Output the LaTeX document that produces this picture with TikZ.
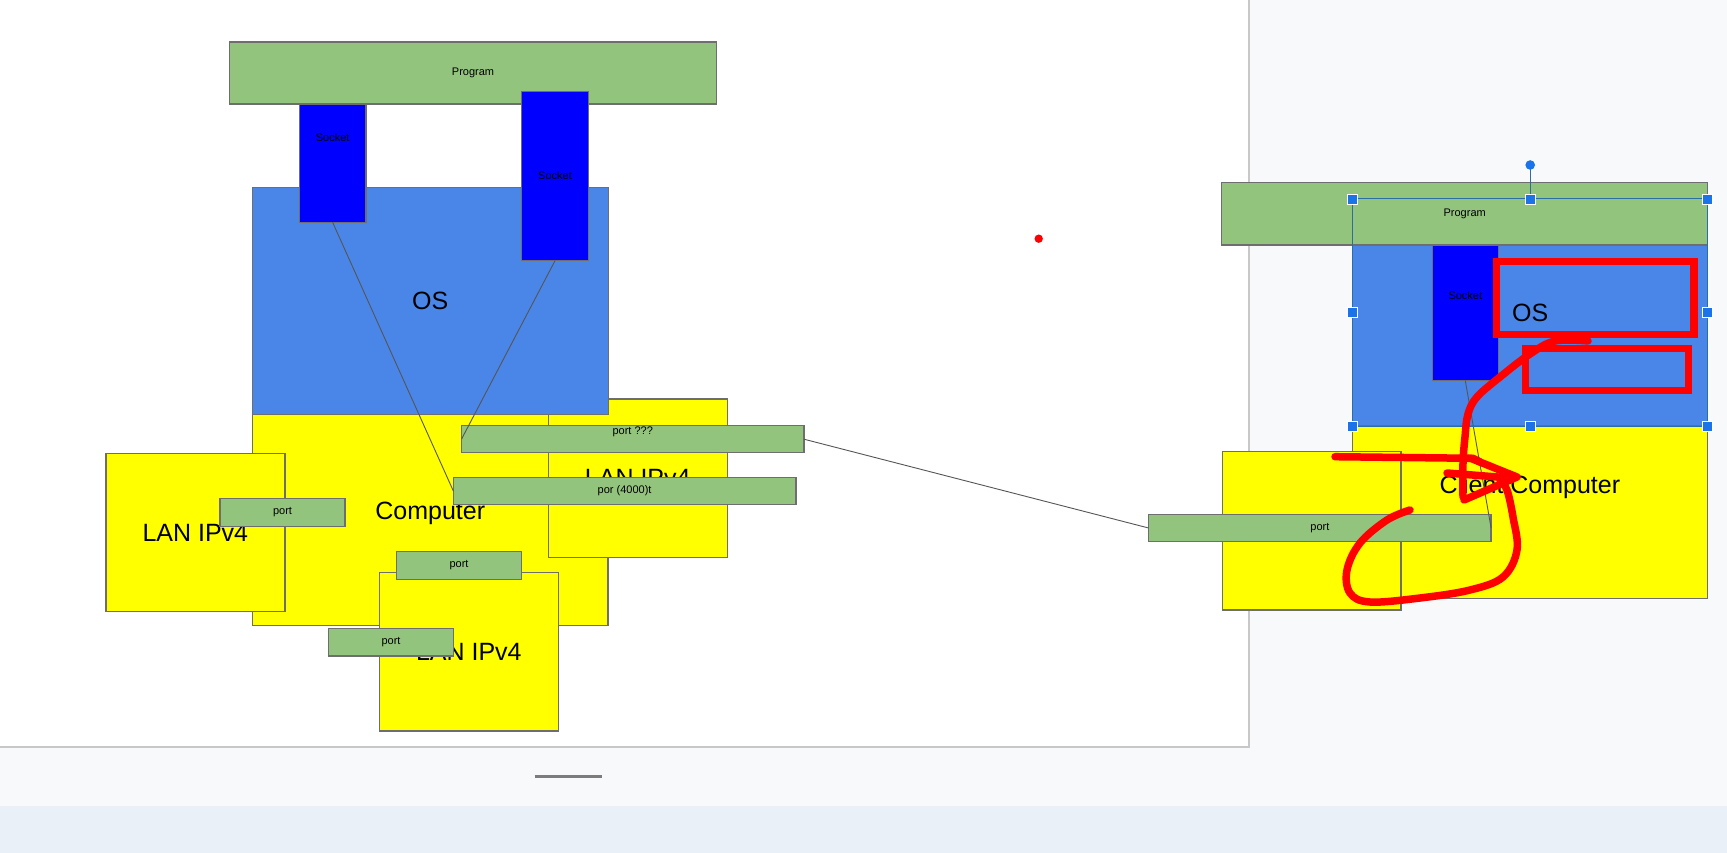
\documentclass[tikz,border=0pt]{standalone}
\usepackage{fontspec}
\setmainfont{Liberation Sans}
\definecolor{progreen}{HTML}{93C47D}
\definecolor{sockblue}{HTML}{0000FF}
\definecolor{osblue}{HTML}{4A86E8}
\definecolor{hostyellow}{HTML}{FFFF00}
\definecolor{edgegray}{HTML}{6E6E6E}
\definecolor{wiregray}{HTML}{555555}
\definecolor{canvasbg}{HTML}{F7F9FA}
\definecolor{bandbg}{HTML}{E9F0F8}
\definecolor{pageedge}{HTML}{C8C8C8}
\definecolor{handleblue}{HTML}{1A73E8}
\definecolor{selline}{HTML}{2A6EA6}
\definecolor{penred}{HTML}{FF0000}
\begin{document}
\begin{tikzpicture}[x=1pt,y=-1pt,
  box/.style={rectangle, draw=edgegray, line width=1.4pt, inner sep=0pt, outer sep=0pt, text=black},
  bigtext/.style={font=\fontsize{25}{30}\selectfont},
  smalltext/.style={font=\fontsize{11}{13}\selectfont},
  hostbox/.style={box, fill=hostyellow, bigtext},
  lanbox/.style={hostbox, minimum width=179pt, minimum height=158.5pt},
  osbox/.style={box, fill=osblue, bigtext},
  progbox/.style={box, fill=progreen, smalltext},
  sockbox/.style={box, fill=sockblue, smalltext, minimum width=66.5pt, minimum height=169.5pt},
  portbox/.style={box, fill=progreen, smalltext, minimum width=125pt, minimum height=27.5pt},
  longport/.style={box, fill=progreen, smalltext, minimum width=342.5pt, minimum height=27pt},
  wire/.style={draw=wiregray, line width=0.9pt},
  handle/.style={rectangle, fill=handleblue, draw=white, line width=0.8pt, minimum size=10pt, inner sep=0pt},
  redpen/.style={draw=penred, line width=7.5pt, line cap=round, line join=round}
]
\useasboundingbox (0,0) rectangle (1727,853);

% canvas, page sheet and bottom band
\fill[canvasbg] (0,0) rectangle (1727,853);
\fill[bandbg] (0,806) rectangle (1727,853);
\fill[white] (0,0) rectangle (1249,747);
\draw[pageedge, line width=1.6pt] (1249,0) -- (1249,747) -- (0,747);
\draw[edgegray!90, line width=3pt] (534.5,776) -- (602,776);

% stray dot
\fill[penred] (1038.7,238.7) circle (4.2);

% ---------- host with three LAN interfaces ----------
\node[hostbox, minimum width=355.5pt, minimum height=224.7pt] (compL) at (430.25,513.35) {Computer};
\node[lanbox] (lanE) at (637.75,478.15) {LAN IPv4};
\node[osbox, minimum width=356pt, minimum height=227.4pt] (osL) at (430.3,301) {OS};
\node[sockbox] (sockA) at (332.65,137.65) {Socket};
\node[progbox, minimum width=487pt, minimum height=62pt] (progL) at (473,73) {Program};
\node[sockbox] (sockB) at (555,176) {Socket};
\node[lanbox] (lanW) at (195.35,532.5) {LAN IPv4};
\node[lanbox] (lanS) at (468.8,651.65) {LAN IPv4};
\node[longport] (portq) at (632.75,439.2) {};
\node[smalltext] (portqlbl) at ([yshift=7.5pt]portq.center) {port ???};
\node[longport] (port4000) at (624.6,491) {por (4000)t};
\node[portbox] (portW) at (282.5,512.5) {port};
\node[portbox] (portS) at (459,565.5) {port};
\node[portbox] (portSW) at (391,642.2) {port};

% ---------- client host ----------
\node[hostbox, minimum width=354.7pt, minimum height=223.3pt] (compR) at (1529.85,486.65) {Client Computer};
\node[hostbox, minimum width=178.6pt, minimum height=158.3pt] (lanR) at (1311.7,530.85) {};
\node[osbox, minimum width=355pt, minimum height=227pt] (osR) at (1530.2,312.5) {OS};
\node[sockbox, minimum width=66pt, minimum height=170pt] (sockR) at (1465.3,295.7) {Socket};
\node[progbox, minimum width=486pt, minimum height=62.7pt] (progR) at (1464.7,213.65) {Program};
\node[longport, minimum height=27.4pt] (portR) at (1319.85,528) {port};

% connectors
\draw[wire] (sockA.south) -- (port4000.west);
\draw[wire] (sockB.south) -- (portq.west);
\draw[wire] (portq.east) -- (portR.west);
\draw[wire] (sockR.south) -- (portR.east);

% selection frame on the client OS
\draw[selline, line width=1pt] (osR.north west) rectangle (osR.south east);
\coordinate (rot) at ([yshift=34pt]osR.north);
\draw[selline, line width=1pt] (osR.north) -- (rot);
\fill[handleblue] (rot) circle (4.8);
\foreach \a in {north west,north,north east,west,east,south west,south,south east}
  \node[handle] at (osR.\a) {};

% hand-drawn red marks
\draw[redpen, line cap=butt, line join=miter] (1496.7,261.7) rectangle (1694,334.3);
\draw[redpen, line cap=butt, line join=miter] (1525.3,348.7) rectangle (1688.7,390.7);
\draw[redpen] plot[smooth, tension=0.6] coordinates {(1588,341) (1555,341) (1530,354) (1500,377) (1477,397) (1468,414) (1465,437) (1463,463) (1463,497)};
\draw[redpen] (1335,456.7) -- (1473,458.3) -- (1480,462);
\draw[redpen] (1470,458) -- (1517,477) -- (1464,500);
\draw[redpen] (1447,473) -- (1510,478);
\draw[redpen] plot[smooth, tension=0.6] coordinates {(1410,510) (1387,520) (1360,543) (1347,570) (1350,593) (1370,602) (1420,598) (1470,590) (1503,577) (1517,550) (1513,517) (1507,490) (1500,480)};
\end{tikzpicture}
\end{document}
